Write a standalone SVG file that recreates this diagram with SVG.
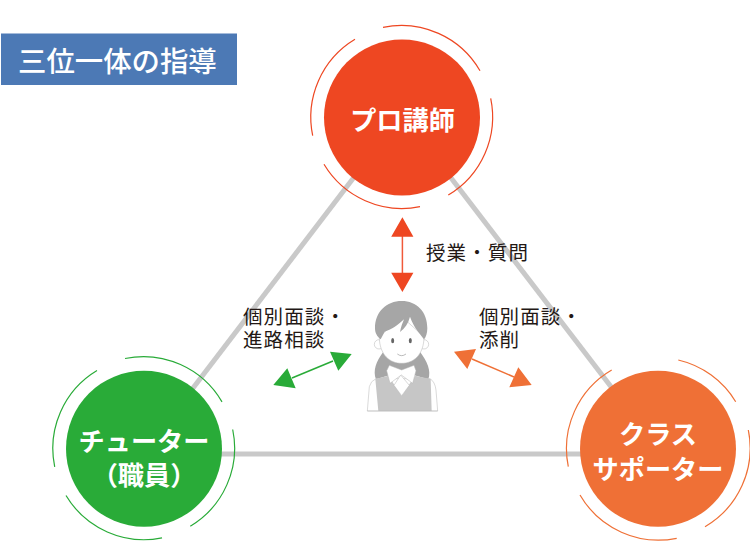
<svg xmlns="http://www.w3.org/2000/svg" width="750" height="547" viewBox="0 0 750 547">
<style>
text{font-family:"Noto Sans CJK JP","Noto Sans",sans-serif}
.nl{fill:#fff;font-weight:700;font-size:26.2px;text-anchor:middle}
.lb{fill:#231815;font-size:19.5px;letter-spacing:1.1px}
.ring{fill:none;stroke-width:1.2}
.edge{stroke:#c9c9c9;stroke-width:5;fill:none}
.p{stroke:#b4b4b4;stroke-width:1.5}
</style>
<rect width="750" height="547" fill="#fff"/>
<g id="connectors">
<path class="edge" d="M358,172L190,392"/>
<path class="edge" d="M448,174L612,388"/>
<path class="edge" d="M215,454H590"/>
<g id="arrow-red"><path d="M402.4,232V277" stroke="#f0593a" stroke-width="1.5"/><path d="M402.4,217.3L413.4,236.7H391.2ZM402.4,292L413.4,272.7H391.2Z" fill="#ee4722"/></g>
<g id="arrow-green"><path d="M333,361L292,378" stroke="#29ab38" stroke-width="1.5"/><path d="M351.7,354L330,351.7L338.3,370.7ZM273.3,385L287.3,368.3L295.7,388.3Z" fill="#29ab38"/></g>
<g id="arrow-orange"><path d="M472,359L514,377" stroke="#ef7036" stroke-width="1.5"/><path d="M454,351.7L476,349L467.3,369ZM531.7,385L518.3,367.3L509.3,387.3Z" fill="#ef7036"/></g>
</g>
<g id="title"><rect x="1" y="33.5" width="236" height="51.5" fill="#4c79b5"/><text x="18" y="72" fill="#fff" font-size="28.4px" font-weight="500">三位一体の指導</text></g>
<g id="node-pro">
<circle cx="402" cy="117.5" r="78" fill="#ee4722"/>
<path class="ring" stroke="#ee4722" d="M383,27.3A91,91 0 0 1 480,70.7M490.7,98.3A91,91 0 0 1 448.3,195M420,206.7A91,91 0 0 1 324,164.3M312.7,135.7A91,91 0 0 1 355,39.3"/>
<text class="nl" x="402.5" y="130">プロ講師</text>
</g>
<g id="node-tutor">
<circle cx="144" cy="448.7" r="78" fill="#29ab38"/>
<path class="ring" stroke="#29ab38" d="M125,358.5A91,91 0 0 1 222,401.9M232.7,429.5A91,91 0 0 1 190.3,526.2M162,537.9A91,91 0 0 1 66,495.5M54.7,466.9A91,91 0 0 1 97,370.5"/>
<text class="nl" x="144" y="451">チューター<tspan x="144" dy="34">（職員）</tspan></text>
</g>
<g id="node-support">
<circle cx="658" cy="448.7" r="78" fill="#ef7036"/>
<path class="ring" stroke="#ef7036" d="M678.3,360A91,91 0 0 1 735.7,401.7M748.3,430A91,91 0 0 1 705,526.7M676.7,538.3A91,91 0 0 1 580,495M568.3,466.7A91,91 0 0 1 611.7,370"/>
<text class="nl" x="658" y="444">クラス<tspan x="658" dy="35">サポーター</tspan></text>
</g>
<g id="labels">
<text class="lb" x="243" y="324">個別面談・<tspan x="243" dy="23">進路相談</tspan></text>
<text class="lb" x="479" y="324">個別面談・<tspan x="479" dy="23">添削</tspan></text>
<text class="lb" x="426" y="260">授業・質問</text>
</g>
<g id="student" transform="translate(340 280) scale(.3333)">
<path d="M130,215C108,245 98,272 108,298L150,285L220,285L265,298C274,272 262,245 240,215Z" fill="#a6a6a6"/>
<path class="p" d="M82,393L88,320Q92,303 108,296L270,296Q285,305 288,330L293,393Z" fill="#fff"/>
<path d="M106,297L145,287L185,347L225,287L272,297L275,393H115Z" fill="#c6c6c6"/>
<path d="M82,393H293" class="p" fill="none"/>
<circle class="p" cx="117" cy="193" r="14" fill="#fff"/>
<circle class="p" cx="252" cy="193" r="14" fill="#fff"/>
<path class="p" d="M118,170C118,225 150,250 185,250C220,250 252,225 252,170L185,110Z" fill="#fff"/>
<path d="M105,145C105,95 140,63 185,63C230,63 262,95 262,145C262,160 258,172 252,178C240,160 222,145 210,110C205,130 195,145 180,156C183,140 188,128 192,118C175,135 152,150 134,155L122,178C112,170 105,160 105,145Z" fill="#a6a6a6"/>
<ellipse cx="158" cy="182" rx="4.5" ry="8" fill="#666"/>
<ellipse cx="211" cy="182" rx="4.5" ry="8" fill="#666"/>
<path d="M172,222Q185,232 198,222" fill="none" stroke="#999" stroke-width="2"/>
<path class="p" d="M182,285L162,316L185,347L208,316Z" fill="#fff"/>
<path class="p" d="M148,256L140,272L150,310L184,285L218,310L228,272L222,256L185,270Z" fill="#fff"/>
</g>
</svg>
